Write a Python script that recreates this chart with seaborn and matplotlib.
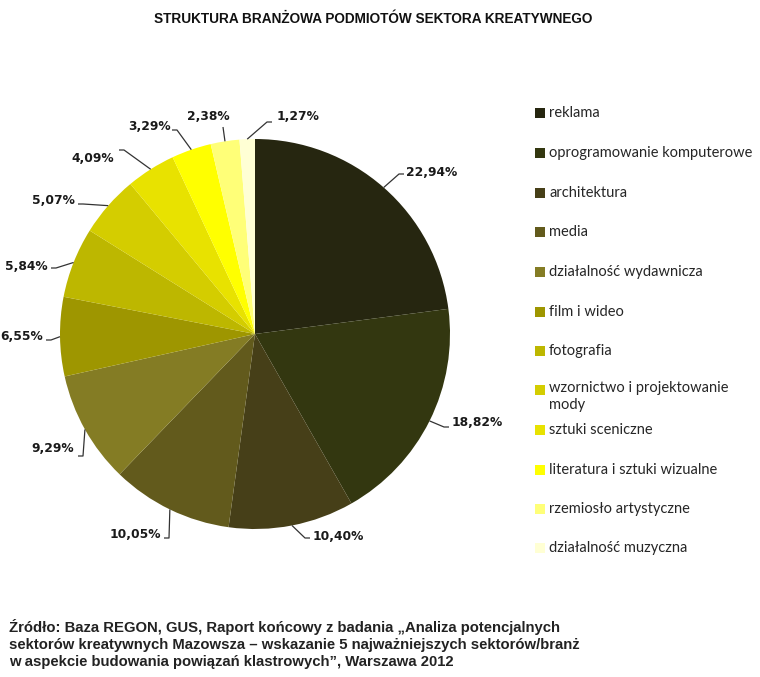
import matplotlib
matplotlib.use("Agg")
import matplotlib.pyplot as plt
import seaborn as sns
import numpy as np
from matplotlib.patches import Rectangle

# ---------------- data ----------------
categories = ["reklama", "oprogramowanie komputerowe", "architektura", "media",
              "działalność wydawnicza", "film i wideo", "fotografia",
              "wzornictwo i projektowanie\nmody", "sztuki sceniczne",
              "literatura i sztuki wizualne", "rzemiosło artystyczne",
              "działalność muzyczna"]
values = [22.94, 18.82, 10.40, 10.05, 9.29, 6.55, 5.84, 5.07, 4.09, 3.29, 2.38, 1.27]
value_labels = ["22,94%", "18,82%", "10,40%", "10,05%", "9,29%", "6,55%", "5,84%",
                "5,07%", "4,09%", "3,29%", "2,38%", "1,27%"]
colors_hex = ["#262610", "#333710", "#463F18", "#625A1C", "#847C24", "#9E9600",
              "#BDB700", "#D4CD00", "#E8E200", "#FFFF00", "#FFFF78", "#FFFFD4"]
title = "STRUKTURA BRANŻOWA PODMIOTÓW SEKTORA KREATYWNEGO"
source_lines = ["Źródło: Baza REGON, GUS, Raport końcowy z badania „Analiza potencjalnych",
                "sektorów kreatywnych Mazowsza – wskazanie 5 najważniejszych sektorów/branż",
                "w aspekcie budowania powiązań klastrowych”, Warszawa 2012"]

# ---------------- layout (pixels) ----------------
W, H = 760, 677
CX, CY, RPX = 255, 334, 195
label_text_px = [(406, 172, "left"), (452, 423, "left"), (313, 537, "left"),
                 (161, 534, "right"), (74, 449, "right"), (43, 337, "right"),
                 (48, 266, "right"), (75, 201, "right"), (114, 158, "right"),
                 (171, 126, "right"), (208, 116, "center"), (277, 117, "left")]
label_end_px = [(404, 174), (449, 427), (310, 538), (164, 538), (78, 456), (46, 340),
                (51, 268), (78, 204), (119, 150), (172, 130), (223, 127), (272, 122)]
legend_y_px = [113, 153, 193, 232, 272, 312, 351, 390, 430, 470, 509, 548]

sns.set_theme(style="white")
plt.rcParams["font.family"] = ["DejaVu Sans"]
palette = sns.color_palette(colors_hex)

fig = plt.figure(figsize=(W / 100, H / 100), dpi=100)
fig.patch.set_facecolor("white")
ax = fig.add_axes([0, 0, 1, 1])

wedges, _ = ax.pie(values, colors=palette, startangle=90, counterclock=False,
                   radius=1.0, center=(0, 0),
                   wedgeprops=dict(linewidth=0, edgecolor="none"))
ax.set_xlim(-CX / RPX, (W - CX) / RPX)
ax.set_ylim(-(H - CY) / RPX, CY / RPX)
ax.set_aspect("equal", adjustable="datalim")
ax.axis("off")


def px2data(x, y):
    return (x - CX) / RPX, (CY - y) / RPX


# labels with leader lines
for w, lab, (tx, ty, ha), (ex, ey) in zip(wedges, value_labels, label_text_px, label_end_px):
    mid = np.deg2rad((w.theta1 + w.theta2) / 2)
    p0 = (np.cos(mid), np.sin(mid))
    if ha == "left":
        elbow_px = (ex - 5, ey)
    elif ha == "right":
        elbow_px = (ex + 5, ey)
    else:
        elbow_px = (ex, ey)
    p1 = px2data(*elbow_px)
    p2 = px2data(ex, ey)
    ax.plot([p0[0], p1[0], p2[0]], [p0[1], p1[1], p2[1]], color="#333333", lw=0.9,
            solid_capstyle="butt")
    x, y = px2data(tx, ty)
    ax.text(x, y, lab, ha=ha, va="center", fontsize=8.8, fontweight="bold",
            color="#1a1a1a", family=["DejaVu Sans"])

# legend (manual, matching the reference layout)
for col, cat, ly in zip(palette, categories, legend_y_px):
    fig.patches.append(Rectangle((535 / W, 1 - (ly + 5) / H), 10 / W, 10 / H,
                                 transform=fig.transFigure, facecolor=col,
                                 edgecolor="none"))
    multi = "\n" in cat
    fig.text(549 / W, 1 - ((ly - 9) if multi else ly) / H, cat, ha="left",
             va="top" if multi else "center",
             fontsize=10.5, color="#262626", family=["Lato", "DejaVu Sans"],
             linespacing=1.25)

fig.text(373 / W, 1 - 19 / H, title, ha="center", va="center", fontsize=9.8,
         fontweight="bold", color="#111111", family=["Liberation Sans", "DejaVu Sans"])

for i, line in enumerate(source_lines):
    fig.text(9 / W, 1 - (627 + 17.5 * i) / H, line, ha="left", va="center",
             fontsize=10.7, fontweight="bold", color="#222222",
             family=["Liberation Sans", "DejaVu Sans"])

fig.savefig("out.png", dpi=100, facecolor="white")
